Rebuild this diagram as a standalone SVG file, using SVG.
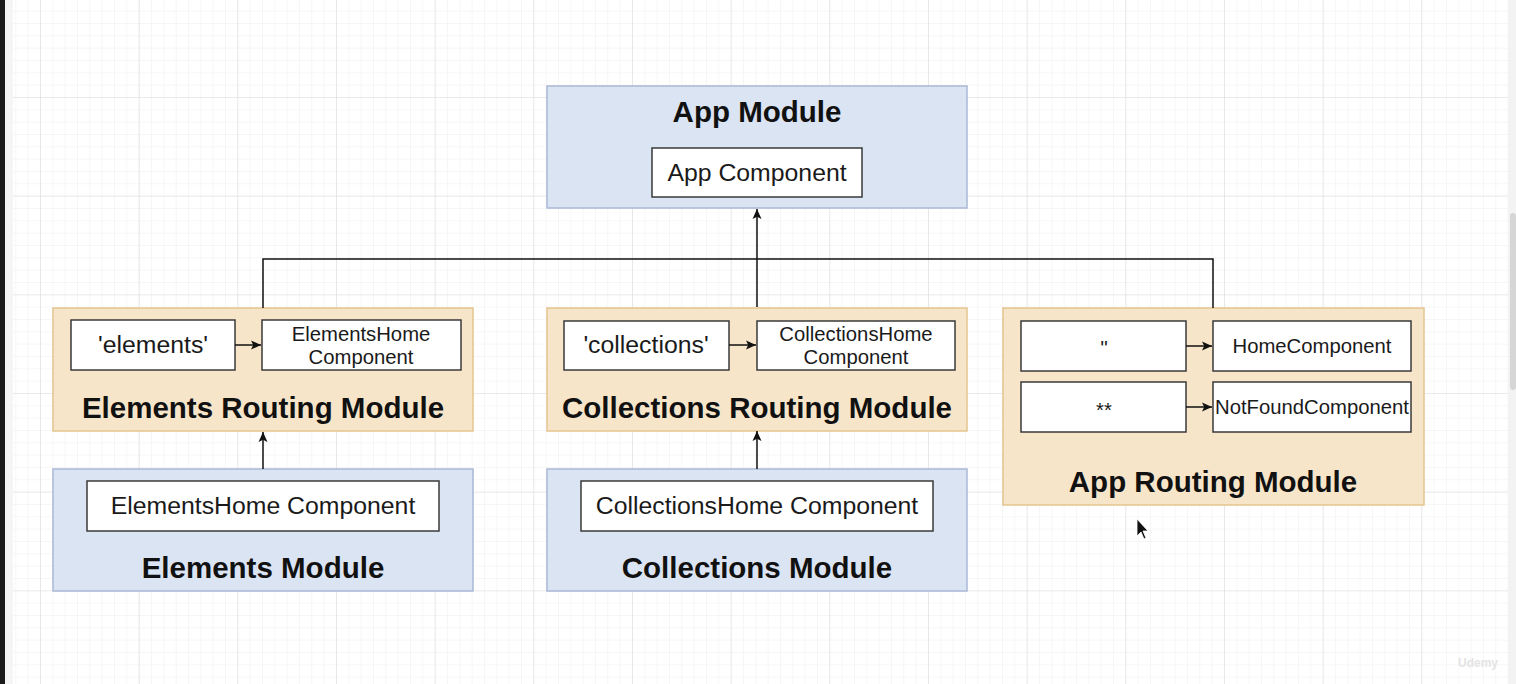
<svg xmlns="http://www.w3.org/2000/svg" width="1516" height="684" viewBox="0 0 1516 684">
<defs>
<pattern id="minor" x="40" y="-1.67" width="12.333" height="12.333" patternUnits="userSpaceOnUse">
<path d="M0 0H12.333M0 0V12.333" fill="none" stroke="#eeeeee" stroke-width="1"/>
</pattern>
<pattern id="major" x="40" y="-1.67" width="98.667" height="98.667" patternUnits="userSpaceOnUse">
<path d="M0 0H98.667M0 0V98.667" fill="none" stroke="#dedede" stroke-width="1.2"/>
</pattern>
<marker id="arr" markerWidth="11" markerHeight="11" refX="10" refY="5.5" orient="auto" markerUnits="userSpaceOnUse">
<path d="M0 1L10 5.5L0 10L2.2 5.5Z" fill="#111"/>
</marker>
</defs>
<style>
.blue{fill:#dbe4f3;stroke:#a9b8d6;stroke-width:1.5}
.orange{fill:#f7e5ca;stroke:#e3c48e;stroke-width:1.5}
.box{fill:#fff;stroke:#3a3a3a;stroke-width:1.5}
.title{font-family:"Liberation Sans",Arial,sans-serif;font-weight:bold;font-size:29.5px;fill:#111;text-anchor:middle}
.lbl{font-family:"Liberation Sans",Arial,sans-serif;font-size:24.8px;fill:#1a1a1a;text-anchor:middle}
.sm{font-family:"Liberation Sans",Arial,sans-serif;font-size:20.3px;fill:#1a1a1a;text-anchor:middle}
.conn{fill:none;stroke:#111;stroke-width:1.5}
</style>
<rect width="1516" height="684" fill="#fff"/>
<rect x="13" y="0" width="1495" height="684" fill="url(#minor)"/>
<rect x="13" y="0" width="1495" height="684" fill="url(#major)"/>
<rect x="0" y="0" width="5" height="684" fill="#1b1b1b"/>
<rect x="5" y="0" width="8" height="684" fill="#f5f5f5"/>
<rect x="1508" y="0" width="8" height="684" fill="#f3f3f3"/>
<rect x="1510" y="213" width="6" height="177" rx="3" fill="#d6d6d6"/>

<g id="app-module">
<rect class="blue" x="547" y="86" width="420" height="122"/>
<text class="title" x="757" y="122">App Module</text>
<rect class="box" x="652" y="148" width="210" height="49"/>
<text class="lbl" x="757" y="181">App Component</text>
</g>

<g id="elements-routing-module">
<rect class="orange" x="53" y="308" width="420" height="123"/>
<rect class="box" x="71" y="320" width="164" height="50"/>
<text class="lbl" x="153" y="353">'elements'</text>
<rect class="box" x="262" y="320" width="199" height="50"/>
<text class="sm" x="361" y="341">ElementsHome</text>
<text class="sm" x="361" y="364">Component</text>
<text class="title" x="263" y="418">Elements Routing Module</text>
</g>

<g id="collections-routing-module">
<rect class="orange" x="547" y="308" width="420" height="123"/>
<rect class="box" x="564" y="321" width="165" height="49"/>
<text class="lbl" x="646" y="353">'collections'</text>
<rect class="box" x="757" y="321" width="198" height="49"/>
<text class="sm" x="856" y="341">CollectionsHome</text>
<text class="sm" x="856" y="364">Component</text>
<text class="title" x="757" y="418">Collections Routing Module</text>
</g>

<g id="app-routing-module">
<rect class="orange" x="1003" y="308" width="421" height="197"/>
<rect class="box" x="1021" y="321" width="165" height="50"/>
<text class="sm" x="1104" y="355">''</text>
<rect class="box" x="1213" y="321" width="198" height="50"/>
<text class="sm" x="1312" y="353">HomeComponent</text>
<rect class="box" x="1021" y="382" width="165" height="50"/>
<text class="sm" x="1104" y="417">**</text>
<rect class="box" x="1213" y="382" width="198" height="50"/>
<text class="sm" x="1312" y="414">NotFoundComponent</text>
<text class="title" x="1213" y="492">App Routing Module</text>
</g>

<g id="elements-module">
<rect class="blue" x="53" y="469" width="420" height="122"/>
<rect class="box" x="87" y="481" width="352" height="50"/>
<text class="lbl" x="263" y="514">ElementsHome Component</text>
<text class="title" x="263" y="578">Elements Module</text>
</g>

<g id="collections-module">
<rect class="blue" x="547" y="469" width="420" height="122"/>
<rect class="box" x="581" y="481" width="352" height="50"/>
<text class="lbl" x="757" y="514">CollectionsHome Component</text>
<text class="title" x="757" y="578">Collections Module</text>
</g>

<g id="connectors">
<path class="conn" d="M757 307V209" marker-end="url(#arr)"/>
<path class="conn" d="M263 308V259H1213V308"/>
<path class="conn" d="M263 469V432" marker-end="url(#arr)"/>
<path class="conn" d="M757 469V431" marker-end="url(#arr)"/>
<path class="conn" d="M235 345H261" marker-end="url(#arr)"/>
<path class="conn" d="M729 345H756" marker-end="url(#arr)"/>
<path class="conn" d="M1186 346H1212" marker-end="url(#arr)"/>
<path class="conn" d="M1186 407H1212" marker-end="url(#arr)"/>
</g>

<path d="M1137 519L1137 536L1141 532L1144 539L1146 538L1143 531L1148 531Z" fill="#111" stroke="#fff" stroke-width="0.8"/>
<text x="1478" y="667" font-family="Liberation Sans,Arial,sans-serif" font-size="12" font-weight="bold" fill="#e4e4e4" text-anchor="middle">Udemy</text>
</svg>
